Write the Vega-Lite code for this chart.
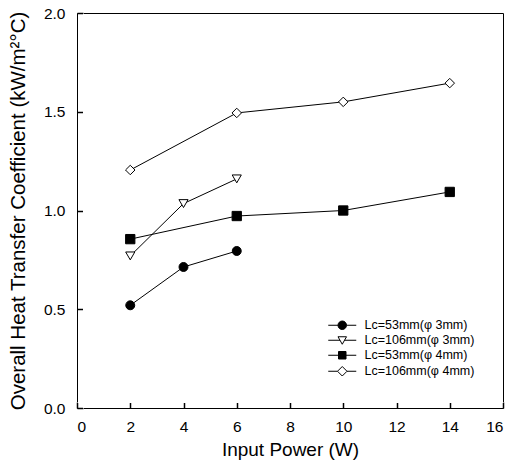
{
  "$schema": "https://vega.github.io/schema/vega-lite/v6.json",
  "autosize": "none",
  "width": 426,
  "height": 395,
  "padding": {"left": 77, "top": 13, "right": 9, "bottom": 56},
  "background": "white",
  "config": {
    "font": "Liberation Sans",
    "view": {"stroke": "black", "strokeWidth": 1},
    "axis": {
      "grid": false,
      "labelColor": "black",
      "titleColor": "black",
      "labelFont": "Liberation Sans",
      "titleFont": "Liberation Sans",
      "labelFontSize": 15.5,
      "titleFontSize": 20,
      "titleFontWeight": "normal"
    },
    "legend": {"labelFont": "Liberation Sans"}
  },
  "data": {
    "values": [
      {"P": 2, "U": 0.52, "s": "Lc=53mm(φ 3mm)"},
      {"P": 4, "U": 0.714, "s": "Lc=53mm(φ 3mm)"},
      {"P": 6, "U": 0.795, "s": "Lc=53mm(φ 3mm)"},
      {"P": 2, "U": 0.77, "s": "Lc=106mm(φ 3mm)"},
      {"P": 4, "U": 1.035, "s": "Lc=106mm(φ 3mm)"},
      {"P": 6, "U": 1.16, "s": "Lc=106mm(φ 3mm)"},
      {"P": 2, "U": 0.855, "s": "Lc=53mm(φ 4mm)"},
      {"P": 6, "U": 0.972, "s": "Lc=53mm(φ 4mm)"},
      {"P": 10, "U": 1.0, "s": "Lc=53mm(φ 4mm)"},
      {"P": 14, "U": 1.094, "s": "Lc=53mm(φ 4mm)"},
      {"P": 2, "U": 1.205, "s": "Lc=106mm(φ 4mm)"},
      {"P": 6, "U": 1.494, "s": "Lc=106mm(φ 4mm)"},
      {"P": 10, "U": 1.55, "s": "Lc=106mm(φ 4mm)"},
      {"P": 14, "U": 1.645, "s": "Lc=106mm(φ 4mm)"}
    ]
  },
  "encoding": {
    "x": {
      "field": "P", "type": "quantitative",
      "scale": {"domain": [0, 16], "nice": false},
      "axis": {"title": "Input Power (W)", "titleFontSize": 19, "values": [0, 2, 4, 6, 8, 10, 12, 14, 16], "domain": true, "domainColor": "white", "ticks": true, "tickColor": "black", "tickSize": 6, "tickWidth": 1.5, "offset": -6, "labelPadding": 11, "titlePadding": 6, "zindex": 2}
    },
    "y": {
      "field": "U", "type": "quantitative",
      "scale": {"domain": [0, 2], "nice": false},
      "axis": {"title": "Overall Heat Transfer Coefficient (kW/m²°C)", "titleFontSize": 20.5, "values": [0, 0.5, 1, 1.5, 2], "format": ".1f", "domain": true, "domainColor": "white", "ticks": true, "tickColor": "black", "tickSize": 6, "tickWidth": 1.5, "offset": -6, "labelPadding": 12, "titlePadding": 15, "zindex": 2}
    }
  },
  "layer": [
    {
      "mark": {"type": "line", "color": "black", "strokeWidth": 1},
      "encoding": {"detail": {"field": "s"}}
    },
    {
      "mark": {"type": "point", "filled": false, "stroke": "black", "strokeWidth": 1, "opacity": 1},
      "encoding": {
        "shape": {
          "field": "s", "type": "nominal",
          "scale": {"domain": ["Lc=53mm(φ 3mm)", "Lc=106mm(φ 3mm)", "Lc=53mm(φ 4mm)", "Lc=106mm(φ 4mm)"], "range": ["circle", "triangle-down", "square", "diamond"]},
          "legend": null
        },
        "fill": {
          "field": "s", "type": "nominal",
          "scale": {"domain": ["Lc=53mm(φ 3mm)", "Lc=106mm(φ 3mm)", "Lc=53mm(φ 4mm)", "Lc=106mm(φ 4mm)"], "range": ["black", "white", "black", "white"]},
          "legend": null
        },
        "size": {
          "field": "s", "type": "nominal",
          "scale": {"domain": ["Lc=53mm(φ 3mm)", "Lc=106mm(φ 3mm)", "Lc=53mm(φ 4mm)", "Lc=106mm(φ 4mm)"], "range": [80, 90, 64, 110]},
          "legend": null
        }
      }
    },
    {
      "transform": [{"filter": "false"}],
      "mark": {"type": "point", "filled": false, "stroke": "black", "strokeWidth": 1, "opacity": 1},
      "encoding": {
        "shape": {
          "field": "s", "type": "nominal",
          "scale": {
            "domain": ["Lc=53mm(φ 3mm)", "Lc=106mm(φ 3mm)", "Lc=53mm(φ 4mm)", "Lc=106mm(φ 4mm)"],
            "range": [
              "M-2.8,0H-0.85M0.85,0H2.8M-0.85,0A0.85,0.85 0 1,0 0.85,0A0.85,0.85 0 1,0 -0.85,0Z",
              "M-2.8,0H-0.45M0.45,0H2.8M-0.85,-0.7H0.85L0,0.8Z",
              "M-2.8,0H2.8M-0.75,-0.75H0.75V0.75H-0.75Z",
              "M-2.8,0H-0.95M0.95,0H2.8M-0.95,0L0,-0.95L0.95,0L0,0.95Z"
            ]
          },
          "legend": {
            "title": null,
            "orient": "none",
            "legendX": 259,
            "legendY": 306,
            "padding": 0,
            "symbolSize": 100,
            "symbolStrokeWidth": 1,
            "labelFontSize": 12.5,
            "labelColor": "black",
            "labelOffset": 16,
            "rowPadding": 2,
            "encode": {"symbols": {"stroke": {"value": "black"}, "strokeWidth": {"value": 1}}}
          }
        },
        "fill": {
          "field": "s", "type": "nominal",
          "scale": {"domain": ["Lc=53mm(φ 3mm)", "Lc=106mm(φ 3mm)", "Lc=53mm(φ 4mm)", "Lc=106mm(φ 4mm)"], "range": ["black", "white", "black", "white"]},
          "legend": {
            "title": null,
            "orient": "none",
            "legendX": 259,
            "legendY": 306,
            "padding": 0,
            "symbolSize": 100,
            "symbolStrokeWidth": 1,
            "labelFontSize": 12.5,
            "labelColor": "black",
            "labelOffset": 16,
            "rowPadding": 2,
            "encode": {"symbols": {"stroke": {"value": "black"}, "strokeWidth": {"value": 1}}}
          }
        }
      }
    }
  ],
  "resolve": {
    "scale": {"shape": "independent", "fill": "independent"},
    "legend": {"shape": "independent", "fill": "independent"}
  }
}
